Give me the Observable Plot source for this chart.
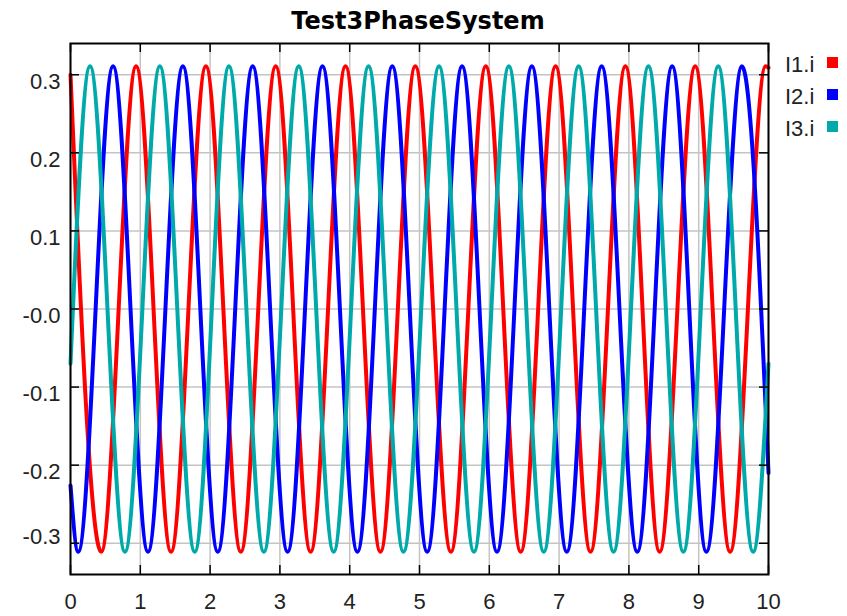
<!DOCTYPE html>
<html>
<head>
<meta charset="utf-8">
<script src="https://cdn.jsdelivr.net/npm/d3@7"></script>
<script src="https://cdn.jsdelivr.net/npm/@observablehq/plot@0.6"></script>
<style>
  body { margin: 0; background: #fff; }
  #wrap { position: relative; width: 847px; height: 616px; overflow: hidden; }
  #title { position: absolute; left: 0; top: 7px; width: 836px; text-align: center;
           font: bold 24px/28px "DejaVu Sans", sans-serif; color: #000; }
  .leg { position: absolute; left: 785px; font: 22px/22px "Liberation Sans", Arial, sans-serif; color: #222; }
  .sw { position: absolute; left: 827px; width: 11px; height: 11px; }
  #chart { position: absolute; left: 0; top: 0; }
</style>
</head>
<body>
<div id="wrap">
  <div id="chart"></div>
  <div id="title"></div>
  <div id="legend"></div>
</div>
<script>
// ---- data ----
const seriesNames = ["I1.i", "I2.i", "I3.i"];
const seriesColors = ["#ff0000", "#0000ff", "#00aaaa"];
const chartTitle = "Test3PhaseSystem";

const xTicks = [0, 1, 2, 3, 4, 5, 6, 7, 8, 9, 10];
const yTicks = [-0.3, -0.2, -0.1, 0, 0.1, 0.2, 0.3];

// I1.i (red): start, then alternating troughs/peaks
const i1Time  = [0, 0.44, 0.94, 1.44, 1.94, 2.44, 2.94, 3.44, 3.94, 4.44, 4.94, 5.45, 5.95, 6.45, 6.95, 7.45, 7.95, 8.44, 8.95, 9.45, 9.96, 10];
const i1Value = [0.300, -0.311, 0.311, -0.311, 0.311, -0.311, 0.311, -0.311, 0.311, -0.311, 0.311, -0.311, 0.311, -0.311, 0.311, -0.311, 0.311, -0.311, 0.311, -0.311, 0.311, 0.309];

// I2.i (blue)
const i2Time  = [0, 0.11, 0.61, 1.11, 1.61, 2.11, 2.61, 3.11, 3.61, 4.11, 4.61, 5.11, 5.61, 6.11, 6.61, 7.11, 7.61, 8.12, 8.62, 9.11, 9.62, 10];
const i2Value = [-0.226, -0.311, 0.311, -0.311, 0.311, -0.311, 0.311, -0.311, 0.311, -0.311, 0.311, -0.311, 0.311, -0.311, 0.311, -0.311, 0.311, -0.311, 0.311, -0.311, 0.311, -0.210];

// I3.i (teal)
const i3Time  = [0, 0.28, 0.78, 1.28, 1.78, 2.27, 2.77, 3.27, 3.77, 4.27, 4.77, 5.28, 5.78, 6.28, 6.78, 7.28, 7.78, 8.28, 8.78, 9.28, 9.78, 10];
const i3Value = [-0.070, 0.311, -0.311, 0.311, -0.311, 0.311, -0.311, 0.311, -0.311, 0.311, -0.311, 0.311, -0.311, 0.311, -0.311, 0.311, -0.311, 0.311, -0.311, 0.311, -0.311, -0.070];

// ---- build table ----
const rows = [];
[[i1Time, i1Value], [i2Time, i2Value], [i3Time, i3Value]].forEach(([ts, vs], k) => {
  ts.forEach((t, i) => rows.push({series: seriesNames[k], t, v: vs[i]}));
});

const fmt = d => d === 0 ? "-0.0" : d.toFixed(1);

const chart = Plot.plot({
  width: 847,
  height: 616,
  marginLeft: 70,
  marginRight: 79,
  marginTop: 43,
  marginBottom: 42,
  x: {domain: [0, 10], label: null},
  y: {domain: [-0.34, 0.34], label: null},
  color: {domain: seriesNames, range: seriesColors},
  style: {fontFamily: "'Liberation Sans', Arial, sans-serif", fontSize: "22px", color: "#222", background: "#fff"},
  marks: [
    Plot.gridX(xTicks, {stroke: "#c4c4c4", strokeOpacity: 1, strokeWidth: 1.5}),
    Plot.gridY(yTicks, {stroke: "#c4c4c4", strokeOpacity: 1, strokeWidth: 1.5}),
    Plot.line(rows, {x: "t", y: "v", z: "series", stroke: "series", strokeWidth: 4, curve: "monotone-x"}),
    Plot.frame({stroke: "#000", strokeWidth: 2}),
    Plot.tickY(yTicks, {insetRight: 689, stroke: "#000", strokeWidth: 1.5}),
    Plot.tickY(yTicks, {insetLeft: 689, stroke: "#000", strokeWidth: 1.5}),
    Plot.tickX(xTicks, {insetBottom: 522, stroke: "#000", strokeWidth: 1.5}),
    Plot.tickX(xTicks, {insetTop: 522, stroke: "#000", strokeWidth: 1.5}),
    Plot.axisX(xTicks, {tickSize: 0, tickPadding: 19, label: null, fontSize: 22, fill: "#222"}),
    Plot.axisY(yTicks.filter(d => d > -0.3), {tickSize: 0, tickPadding: 10, tickFormat: fmt, label: null, dy: 7, fontSize: 22, fill: "#222"}),
    Plot.axisY(yTicks.filter(d => d <= -0.3), {tickSize: 0, tickPadding: 10, tickFormat: fmt, label: null, dy: -6, fontSize: 22, fill: "#222"})
  ]
});
document.getElementById("chart").appendChild(chart);

document.getElementById("title").textContent = chartTitle;
const legend = document.getElementById("legend");
seriesNames.forEach((name, i) => {
  const t = document.createElement("div");
  t.className = "leg";
  t.style.top = (54 + 32 * i) + "px";
  t.textContent = name;
  legend.appendChild(t);
  const s = document.createElement("div");
  s.className = "sw";
  s.style.top = (57 + 32 * i) + "px";
  s.style.background = seriesColors[i];
  legend.appendChild(s);
});
</script>
</body>
</html>
